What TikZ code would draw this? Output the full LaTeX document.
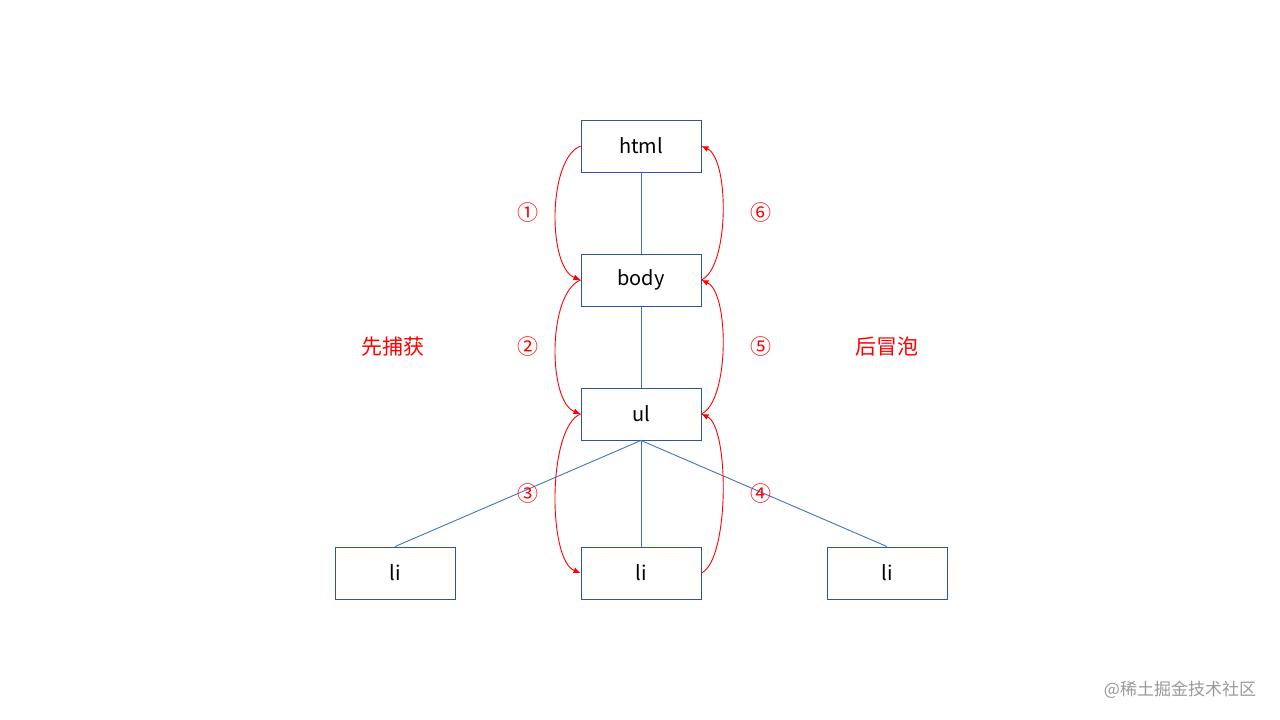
\documentclass[tikz,border=0pt]{standalone}
\usepackage{fontspec}
\setmainfont{Noto Sans CJK SC}
\usetikzlibrary{arrows.meta}
\definecolor{boxblue}{HTML}{2F5597}
\definecolor{linkblue}{HTML}{4472C4}
\definecolor{evred}{HTML}{FF0000}
\begin{document}
\begin{tikzpicture}[x=1pt,y=-1pt,
  elem/.style={draw=boxblue,line width=0.9pt,minimum width=120pt,minimum height=52pt,inner sep=0pt,font=\fontsize{20}{24}\selectfont,text=black},
  link/.style={draw=linkblue,line width=0.9pt},
  flow/.style={draw=evred,line width=0.9pt,-{Latex[length=7pt,width=6pt]}},
  num/.style={text=evred,font=\fontsize{21}{24}\selectfont},
  phase/.style={text=evred,font=\fontsize{21}{24}\selectfont}]
\useasboundingbox[fill=white] (0,0) rectangle (1280,720);
\node[elem] (html) at (641,146) {html};
\node[elem] (body) at (641,280) {body};
\node[elem] (ul) at (641,414) {ul};
\node[elem] (li1) at (395,573) {li};
\node[elem] (li2) at (641,573) {li};
\node[elem] (li3) at (887,573) {li};
\draw[link] (html.south) -- (body.north);
\draw[link] (body.south) -- (ul.north);
\draw[link] (ul.south) -- (li1.north);
\draw[link] (ul.south) -- (li2.north);
\draw[link] (ul.south) -- (li3.north);
% capture
\draw[flow] (html.west) .. controls +(-33,13) and +(-33,-13) .. (body.west);
\draw[flow] (body.west) .. controls +(-33,13) and +(-33,-13) .. (ul.west);
\draw[flow] (ul.west) .. controls +(-33,13) and +(-33,-13) .. (li2.west);
% bubble
\draw[flow] (li2.east) .. controls +(28,-13) and +(28,13) .. (ul.east);
\draw[flow] (ul.east) .. controls +(28,-13) and +(28,13) .. (body.east);
\draw[flow] (body.east) .. controls +(28,-13) and +(28,13) .. (html.east);
\node[num] (n1) at (528,213) {①};
\node[num] (n2) at (528,347) {②};
\node[num] (n3) at (528,494) {③};
\node[num] (n4) at (761,494) {④};
\node[num] (n5) at (761,347) {⑤};
\node[num] (n6) at (761,213) {⑥};
\node[phase] (cap) at (393,347) {先捕获};
\node[phase] (bub) at (887,347) {后冒泡};
\node[text=black!40,font=\fontsize{17}{20}\selectfont] (wm) at (1180,690) {@稀土掘金技术社区};
\end{tikzpicture}
\end{document}
